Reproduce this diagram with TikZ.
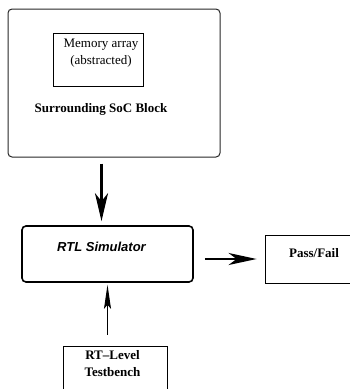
\documentclass[tikz,border=0pt]{standalone}
\usepackage{fontspec}
\setmainfont{Liberation Serif}
\setsansfont{Liberation Sans}
\usetikzlibrary{arrows.meta, calc}

\begin{document}
\begin{tikzpicture}[x=1pt, y=-1pt, font=\fontsize{13}{17}\selectfont]
\tikzstyle{block} = [rectangle, draw=black, line width=0.8pt, inner sep=0pt]
\tikzstyle{caption} = [align=center, font=\fontsize{13}{17}\selectfont\bfseries]
\useasboundingbox (0,0) rectangle (349,389);

% SoC block holding the abstracted memory
\node (soc) [block, draw=black!85, line width=1pt, rounded corners=4pt, minimum width=212pt, minimum height=148pt] at (114,83) {};
\node (mem) [block, minimum width=90pt, minimum height=53pt] at (98,59.5) {};
\node (memtext) [align=center] at (101,53.5) {Memory array\\(abstracted)};
\node (soctext) [caption] at (101,109) {Surrounding SoC Block};

\node (sim) [block, line width=1.6pt, rounded corners=4pt, minimum width=171pt, minimum height=56pt] at (107.5,254) {};
\node (simtext) [font=\fontsize{13}{17}\selectfont\sffamily\bfseries\itshape] at (101.5,247) {RTL Simulator};

\node (pass) [block, minimum width=98pt, minimum height=48pt] at (314,259) {};
\node (passtext) [caption] at (314,253) {Pass/Fail};

\node (tb) [block, minimum width=104pt, minimum height=56pt] at (115,374) {};
\node (tbtext) [caption] at (112.5,364) {RT--Level\\Testbench};

\draw [-{Stealth[length=28pt, width=13pt, inset=8pt]}, line width=3pt, shorten <=6pt, shorten >=4pt] (soc.south -| simtext) -- (simtext |- sim.north);
\draw [-{Stealth[length=28pt, width=12pt, inset=8pt]}, line width=2.5pt, shorten <=11pt, shorten >=8pt] (sim.east |- pass.west) -- (pass.west);
\draw [-{Stealth[length=24pt, width=7pt, inset=4pt]}, line width=0.9pt, shorten <=11pt, shorten >=2pt] (sim.south |- tb.north) -- (sim.south);

\end{tikzpicture}
\end{document}
